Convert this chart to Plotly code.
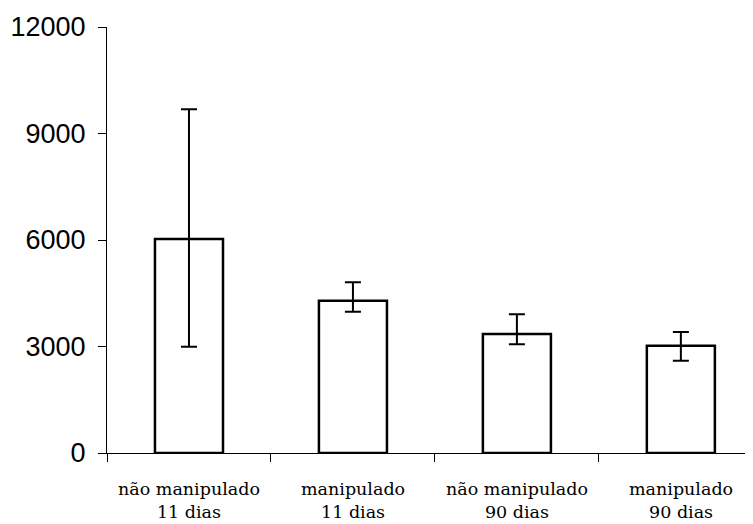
import plotly.graph_objects as go

categories = ["não manipulado 11 dias", "manipulado 11 dias", "não manipulado 90 dias", "manipulado 90 dias"]
label_line1 = ["não manipulado", "manipulado", "não manipulado", "manipulado"]
label_line2 = ["11 dias", "11 dias", "90 dias", "90 dias"]
means = [6030, 4290, 3355, 3020]
err_plus = [3650, 520, 550, 385]
err_minus = [3040, 310, 290, 420]
y_ticks = [0, 3000, 6000, 9000, 12000]

SERIF = "DejaVu Serif"

fig = go.Figure()
fig.add_trace(go.Bar(
    x=categories, y=means, width=0.415,
    marker=dict(color="white", line=dict(color="black", width=2.5)),
    error_y=dict(type="data", symmetric=False, array=err_plus, arrayminus=err_minus,
                 color="black", thickness=2, width=8),
    showlegend=False,
))

annotations = []
for c, l1, l2 in zip(categories, label_line1, label_line2):
    annotations.append(dict(x=c, xref="x", y=0, yref="paper", text=l1 + "<br>" + l2,
                            showarrow=False, yanchor="middle", yshift=-47, borderpad=0,
                            font=dict(family=SERIF, size=17.5, color="black")))

fig.update_layout(
    width=745, height=516,
    margin=dict(l=99, r=0, t=19, b=71),
    paper_bgcolor="white", plot_bgcolor="white",
    annotations=annotations,
    xaxis=dict(type="category", range=[-0.5, 3.44], showticklabels=False,
               tickson="boundaries", ticks="outside", ticklen=8, tickcolor="black", tickwidth=1,
               showline=True, linecolor="black", linewidth=1, showgrid=False, zeroline=False),
    yaxis=dict(range=[0, 12000], tickvals=y_ticks, ticktext=[str(v) for v in y_ticks],
               ticks="outside", ticklen=8, tickcolor="black", tickwidth=1,
               ticklabelstandoff=7,
               showline=True, linecolor="black", linewidth=1, showgrid=False, zeroline=False,
               tickfont=dict(family="Liberation Sans", size=27, color="black")),
)

fig.write_html("out.html")
